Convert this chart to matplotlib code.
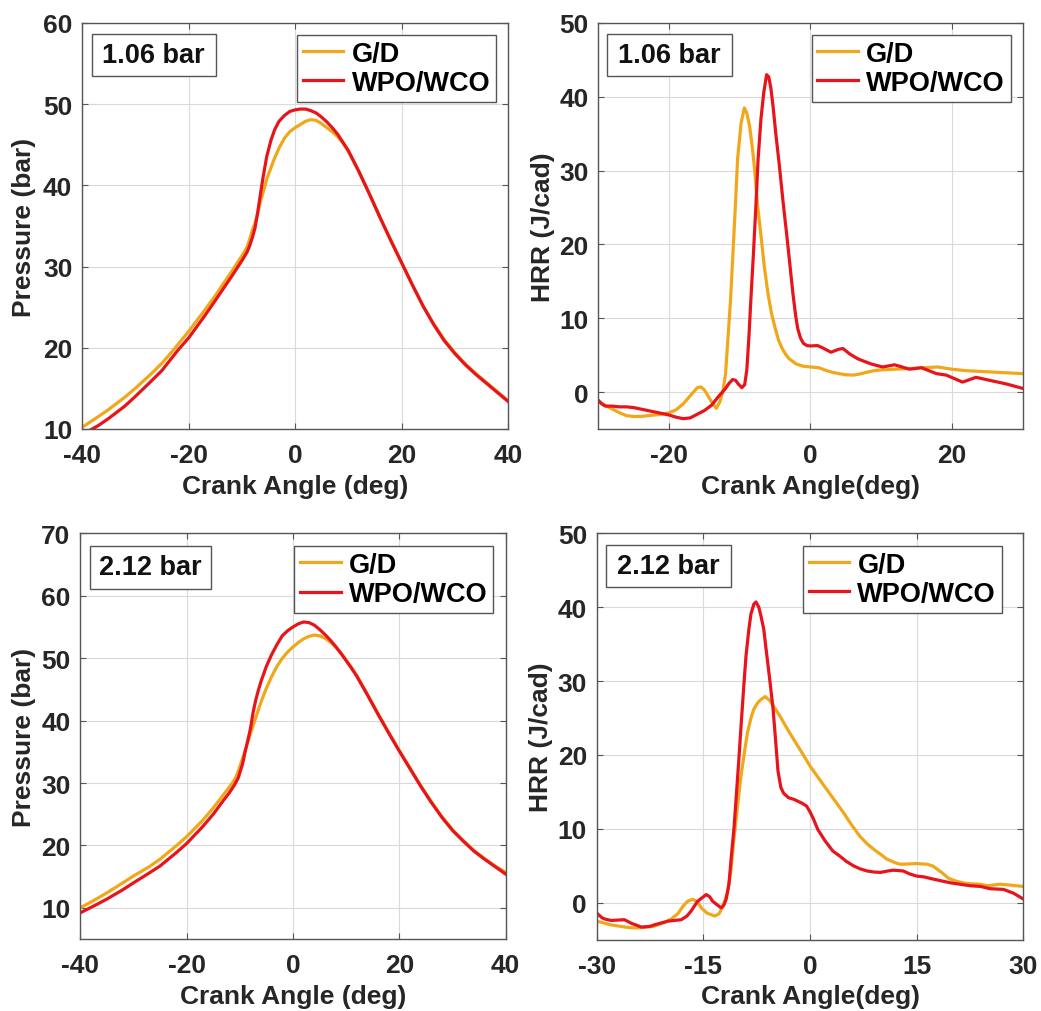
import matplotlib
matplotlib.use("Agg")
import matplotlib.pyplot as plt
from matplotlib.patches import Rectangle

plt.rcParams['font.family'] = ['Liberation Sans', 'DejaVu Sans']
plt.rcParams['font.weight'] = 'bold'
plt.rcParams['axes.unicode_minus'] = False

# ---------------- data ----------------
series_labels = ["G/D", "WPO/WCO"]
load_labels = ["1.06 bar", "2.12 bar"]

# Top-left: pressure, 1.06 bar
tl_x_gd = [-40, -37, -35, -32, -30, -27, -25, -23, -20, -17, -15, -12, -10, -9, -8.5, -8, -7.5, -7,
           -6.5, -6, -5.3, -4.5, -4, -3, -2, -1, 0, 1, 2, 3, 4, 5, 6, 7, 8, 9, 10, 12, 14, 16, 18,
           20, 22, 24, 26, 28, 30, 32, 34, 36, 38, 40]
tl_p_gd = [10.2, 11.5, 12.4, 13.9, 15.0, 16.8, 18.1, 19.6, 22.0, 24.6, 26.4, 29.3, 31.3, 32.4, 33.4,
           34.5, 35.4, 36.6, 38.0, 39.1, 40.8, 42.2, 43.1, 44.6, 45.8, 46.6, 47.1, 47.5, 47.9, 48.1,
           48.0, 47.6, 47.1, 46.6, 46.0, 45.2, 44.2, 41.7, 38.9, 36.0, 33.2, 30.5, 27.8, 25.2, 23.0,
           21.0, 19.4, 18.0, 16.8, 15.7, 14.6, 13.5]
tl_x_wpo = [-40, -37, -35, -32, -30, -27, -25, -22, -20, -17, -15, -12, -10, -9, -8.5, -8, -7.5, -7,
            -6.5, -6, -5.3, -4.5, -3.8, -3, -2, -1, 0, 1, 2, 3, 4, 5, 6, 7, 8, 9, 10, 12, 14, 16,
            18, 20, 22, 24, 26, 28, 30, 32, 34, 36, 38, 40]
tl_p_wpo = [9.3, 10.4, 11.3, 12.8, 14.0, 15.9, 17.2, 19.7, 21.2, 23.9, 25.8, 28.7, 30.7, 31.8, 32.6,
            33.6, 34.8, 36.7, 38.9, 41.0, 43.6, 45.6, 46.9, 47.9, 48.6, 49.1, 49.3, 49.4, 49.4,
            49.2, 48.9, 48.4, 47.8, 47.1, 46.3, 45.3, 44.3, 41.7, 38.9, 36.0, 33.2, 30.5, 27.8,
            25.2, 22.9, 20.9, 19.3, 17.9, 16.7, 15.6, 14.5, 13.4]

# Top-right: HRR, 1.06 bar
tr_x_gd = [-30, -29, -28, -27, -26, -25, -24, -23, -22, -21, -20, -19, -18, -17, -16, -15.5, -15,
           -14.5, -14, -13.3, -12.8, -12.4, -12, -11.7, -11.3, -11, -10.6, -10.3, -9.8, -9.35, -9,
           -8.6, -8.2, -7.9, -7.5, -7, -6.5, -6, -5.5, -5, -4.5, -4, -3.5, -3, -2, -1, 0, 1.2, 2,
           3, 4, 5, 6, 7, 8, 9, 10, 12, 14, 16, 18, 20, 22, 24, 26, 28, 30]
tr_h_gd = [-1.3, -1.8, -2.3, -2.8, -3.2, -3.3, -3.3, -3.2, -3.1, -3.0, -2.8, -2.4, -1.6, -0.5, 0.6,
           0.7, 0.3, -0.5, -1.3, -2.2, -1.3, 0.0, 2.5, 6.8, 12.5, 18.1, 25.5, 31.6, 36.5, 38.5,
           37.8, 36.0, 33.0, 30.2, 25.5, 21.2, 16.8, 13.3, 10.6, 8.7, 7.0, 5.9, 5.1, 4.5, 3.8, 3.5,
           3.4, 3.3, 3.0, 2.7, 2.5, 2.35, 2.3, 2.45, 2.7, 2.9, 3.0, 3.1, 3.2, 3.3, 3.4, 3.1, 2.9,
           2.8, 2.7, 2.6, 2.5]
tr_x_wpo = [-30, -29.5, -29, -28, -27, -26, -25, -24, -23, -22, -21, -20, -19, -18, -17, -16, -15,
            -14, -13, -12, -11.5, -11, -10.6, -10.2, -9.7, -9.3, -9, -8.7, -8.4, -8.1, -7.7, -7.4,
            -7, -6.6, -6.2, -5.9, -5.6, -5.3, -4.9, -4.4, -3.9, -3.4, -2.9, -2.5, -2.1, -1.8, -1.4,
            -1, -0.5, 0, 1, 1.7, 2.9, 4, 4.6, 5.5, 6.7, 8.6, 10.2, 11.9, 14, 15.7, 17.8, 19.2, 21.5,
            23.4, 25.3, 27.7, 30]
tr_h_wpo = [-1.1, -1.6, -1.9, -1.9, -2.0, -2.0, -2.1, -2.3, -2.5, -2.7, -2.9, -3.1, -3.4, -3.6, -3.5,
            -3.0, -2.5, -1.8, -0.6, 0.5, 1.2, 1.7, 1.6, 1.1, 0.6, 1.0, 3.0, 7.5, 13.0, 18.1, 25.5,
            31.6, 37.0, 40.6, 43.0, 42.7, 41.2, 38.8, 35.0, 30.7, 26.0, 21.7, 17.2, 13.5, 10.4, 8.6,
            7.3, 6.6, 6.3, 6.25, 6.3, 6.0, 5.4, 5.8, 5.9, 5.2, 4.5, 3.8, 3.4, 3.7, 3.1, 3.3, 2.5,
            2.3, 1.35, 2.0, 1.6, 1.1, 0.5]

# Bottom-left: pressure, 2.12 bar
bl_x_gd = [-40, -37, -35, -32, -30, -27, -25, -22, -20, -17, -15, -13, -12, -11, -10.6, -10, -9,
           -8, -7, -6, -5, -4, -3, -2, -1, 0, 1, 2, 3, 4, 5, 6, 7, 8, 9, 10, 11, 12, 13, 14, 16, 18,
           20, 22, 24, 26, 28, 30, 32, 34, 36, 38, 40]
bl_p_gd = [10.0, 11.4, 12.4, 14.0, 15.1, 16.6, 17.8, 19.9, 21.4, 24.0, 26.0, 28.2, 29.3, 30.5, 31.2,
           32.6, 35.2, 37.9, 40.5, 43.0, 45.2, 47.1, 48.7, 50.0, 51.0, 51.8, 52.5, 53.1, 53.5, 53.7,
           53.6, 53.2, 52.6, 51.8, 50.8, 49.7, 48.5, 47.2, 45.7, 44.2, 41.1, 38.1, 35.2, 32.4, 29.6,
           27.0, 24.6, 22.5, 20.8, 19.2, 17.9, 16.7, 15.7]
bl_x_wpo = [-40, -37, -35, -32, -30, -27, -25, -22, -20, -17, -15, -13, -12, -11, -10.3, -9.5, -9,
            -8.5, -8, -7.5, -7, -6.5, -6, -5, -4, -3, -2, -1, 0, 1, 2, 3, 4, 5, 6, 7, 8, 9, 10, 11,
            12, 13, 14, 16, 18, 20, 22, 24, 26, 28, 30, 32, 34, 36, 38, 40]
bl_p_wpo = [9.2, 10.5, 11.4, 12.9, 14.0, 15.6, 16.7, 18.8, 20.3, 23.0, 25.0, 27.3, 28.4, 29.7, 30.8,
            33.0, 35.0, 36.8, 38.7, 41.3, 43.3, 44.9, 46.3, 48.7, 50.6, 52.2, 53.6, 54.4, 55.0,
            55.5, 55.8, 55.7, 55.3, 54.6, 53.8, 52.9, 51.9, 50.8, 49.6, 48.4, 47.1, 45.6, 44.1,
            41.0, 38.0, 35.1, 32.3, 29.5, 26.9, 24.5, 22.4, 20.7, 19.1, 17.8, 16.6, 15.4]

# Bottom-right: HRR, 2.12 bar
br_x_gd = [-30, -28, -26, -25, -24, -22, -20.5, -19.5, -18.6, -17.8, -17.2, -16.5, -15.8, -15.3,
           -14.5, -13.4, -12.8, -12.3, -11.6, -11.1, -10.7, -10.2, -9.7, -9.2, -8.8, -8.3, -7.9,
           -7.4, -6.9, -6.3, -5.6, -5.0, -4.2, -3.3, -2.3, -1.2, 0, 1.1, 2.3, 3.5, 4.7, 5.8, 7.0,
           8.0, 9.0, 10.0, 10.8, 12, 12.7, 14, 15, 16.5, 17.3, 18.5, 19.5, 20.6, 22, 23.9, 25, 26.7,
           28, 30]
br_h_gd = [-2.5, -3.0, -3.3, -3.4, -3.4, -3.2, -2.7, -2.2, -1.5, -0.4, 0.2, 0.45, 0.1, -0.7, -1.4,
           -1.8, -1.5, -0.6, 1.4, 4.5, 8.6, 13.0, 17.2, 20.5, 23.0, 25.0, 26.2, 27.0, 27.5, 27.9,
           27.3, 26.4, 25.2, 23.7, 22.1, 20.4, 18.5, 17.0, 15.4, 13.8, 12.2, 10.6, 9.0, 8.0, 7.2,
           6.5, 5.9, 5.4, 5.2, 5.25, 5.3, 5.2, 4.95, 4.1, 3.3, 2.9, 2.6, 2.5, 2.3, 2.5, 2.4, 2.2]
br_x_wpo = [-30, -29.3, -28.9, -28, -27, -26.1, -25.1, -23.7, -22.5, -21.9, -20, -18.1, -17.3,
            -16.7, -15.8, -14.6, -14.1, -13.7, -12.5, -12.1, -11.8, -11.4, -11.1, -10.7, -10.4,
            -10.0, -9.7, -9.3, -9.0, -8.6, -8.3, -7.9, -7.6, -7.2, -6.9, -6.5, -6.2, -5.7, -5.2,
            -4.8, -4.5, -4.1, -3.7, -3.0, -2.3, -1.2, -0.5, 0, 0.5, 1.1, 2.1, 3.2, 4.2, 5.1, 6.1, 7,
            8, 9, 9.9, 11, 11.7, 13.1, 14, 15, 16, 17.3, 19.7, 22.5, 24, 25.3, 26.2, 27.2, 28.6, 30]
br_h_wpo = [-1.4, -2.0, -2.2, -2.4, -2.35, -2.3, -2.8, -3.3, -3.2, -3.0, -2.5, -2.3, -1.8, -1.1, 0.2,
            1.1, 0.8, 0.2, -0.7, -0.3, 0.45, 2.5, 5.9, 10.0, 14.0, 19.5, 23.9, 29.5, 33.4, 37.0,
            39.1, 40.4, 40.7, 40.0, 38.8, 37.0, 34.5, 30.5, 26.3, 21.5, 17.8, 15.6, 14.8, 14.2,
            14.0, 13.5, 13.1, 12.3, 11.3, 9.9, 8.4, 7.0, 6.3, 5.6, 5.0, 4.6, 4.3, 4.15, 4.1, 4.3,
            4.4, 4.3, 3.9, 3.6, 3.5, 3.2, 2.7, 2.3, 2.2, 1.9, 1.85, 1.8, 1.3, 0.5]

tl_xticks = [-40, -20, 0, 20, 40]
tl_yticks = [10, 20, 30, 40, 50, 60]
tr_xticks = [-20, 0, 20]
tr_yticks = [0, 10, 20, 30, 40, 50]
bl_xticks = [-40, -20, 0, 20, 40]
bl_yticks = [10, 20, 30, 40, 50, 60, 70]
br_xticks = [-30, -15, 0, 15, 30]
br_yticks = [0, 10, 20, 30, 40, 50]

# ---------------- style ----------------
C_GD = '#F0A81A'
C_WPO = '#E8141C'
LW = 2.3
FS = 19
FS_BOX = 19.5
SPINE = '#555555'

fig = plt.figure(figsize=(10.41, 10.12), dpi=100)

panels = [
    dict(pos=[0.0788, 0.5751, 0.4092, 0.4012], xg=tl_x_gd, yg=tl_p_gd, xw=tl_x_wpo, yw=tl_p_wpo,
         xlim=(-40, 40), ylim=(10, 60), xt=tl_xticks, yt=tl_yticks, load=load_labels[0],
         ylabel='Pressure (bar)', xlabel='Crank Angle (deg)', box=(0.0228, 0.870, 0.291, 0.103),
         leg=(0.972, 0.971), ylc=-0.108),
    dict(pos=[0.5747, 0.5751, 0.4077, 0.4012], xg=tr_x_gd, yg=tr_h_gd, xw=tr_x_wpo, yw=tr_h_wpo,
         xlim=(-30, 30), ylim=(-5, 50), xt=tr_xticks, yt=tr_yticks, load=load_labels[0],
         ylabel='HRR (J/cad)', xlabel='Crank Angle(deg)', box=(0.0212, 0.870, 0.293, 0.103),
         leg=(0.972, 0.971), ylc=-0.103),
    dict(pos=[0.0771, 0.0711, 0.4087, 0.4009], xg=bl_x_gd, yg=bl_p_gd, xw=bl_x_wpo, yw=bl_p_wpo,
         xlim=(-40, 40), ylim=(5, 70), xt=bl_xticks, yt=bl_yticks, load=load_labels[1],
         ylabel='Pressure (bar)', xlabel='Crank Angle (deg)', box=(0.0228, 0.864, 0.284, 0.104),
         leg=(0.971, 0.969), ylc=-0.105),
    dict(pos=[0.5732, 0.0705, 0.4098, 0.4016], xg=br_x_gd, yg=br_h_gd, xw=br_x_wpo, yw=br_h_wpo,
         xlim=(-30, 30), ylim=(-5, 50), xt=br_xticks, yt=br_yticks, load=load_labels[1],
         ylabel='HRR (J/cad)', xlabel='Crank Angle(deg)', box=(0.0218, 0.867, 0.292, 0.104),
         leg=(0.950, 0.9695), ylc=-0.103),
]

for p in panels:
    ax = fig.add_axes(p['pos'])
    ax.plot(p['xg'], p['yg'], color=C_GD, lw=LW, label=series_labels[0], solid_joinstyle='round')
    ax.plot(p['xw'], p['yw'], color=C_WPO, lw=LW, label=series_labels[1], solid_joinstyle='round')
    ax.set_xlim(*p['xlim'])
    ax.set_ylim(*p['ylim'])
    ax.set_xticks(p['xt'])
    ax.set_yticks(p['yt'])
    ax.grid(True, color='#dadada', lw=0.8)
    ax.set_axisbelow(True)
    for s in ax.spines.values():
        s.set_color(SPINE)
        s.set_linewidth(1.0)
    ax.tick_params(direction='in', length=4, width=0.8, color=SPINE, top=True, right=True,
                   labelsize=FS, labelcolor='#262626')
    ax.tick_params(axis='x', pad=10)
    ax.tick_params(axis='y', pad=7)
    for lab in ax.get_xticklabels() + ax.get_yticklabels():
        lab.set_fontweight('bold')
    ax.set_xlabel(p['xlabel'], fontsize=FS, fontweight='bold', color='#262626')
    ax.set_ylabel(p['ylabel'], fontsize=FS, fontweight='bold', color='#262626')
    ax.xaxis.set_label_coords(0.5, -0.11)
    ax.yaxis.set_label_coords(p['ylc'], 0.5)

    bx, by, bw, bh = p['box']
    ax.add_patch(Rectangle((bx, by), bw, bh, transform=ax.transAxes, facecolor='white',
                           edgecolor=SPINE, lw=1.0, zorder=5))
    ax.text(bx + bw / 2, by + bh / 2, p['load'], transform=ax.transAxes, ha='center',
            va='center', fontsize=FS_BOX, fontweight='bold', color='#111111', zorder=6)

    leg = ax.legend(loc='upper right', bbox_to_anchor=p['leg'], bbox_transform=ax.transAxes,
                    borderaxespad=0, fancybox=False, framealpha=1, edgecolor=SPINE,
                    prop={'size': FS_BOX, 'weight': 'bold'}, handlelength=1.5, handletextpad=0.3,
                    borderpad=0.22, labelspacing=0.12)
    leg.get_frame().set_linewidth(1.0)
    leg.set_zorder(7)

fig.savefig('out.png', dpi=100, facecolor='white')
